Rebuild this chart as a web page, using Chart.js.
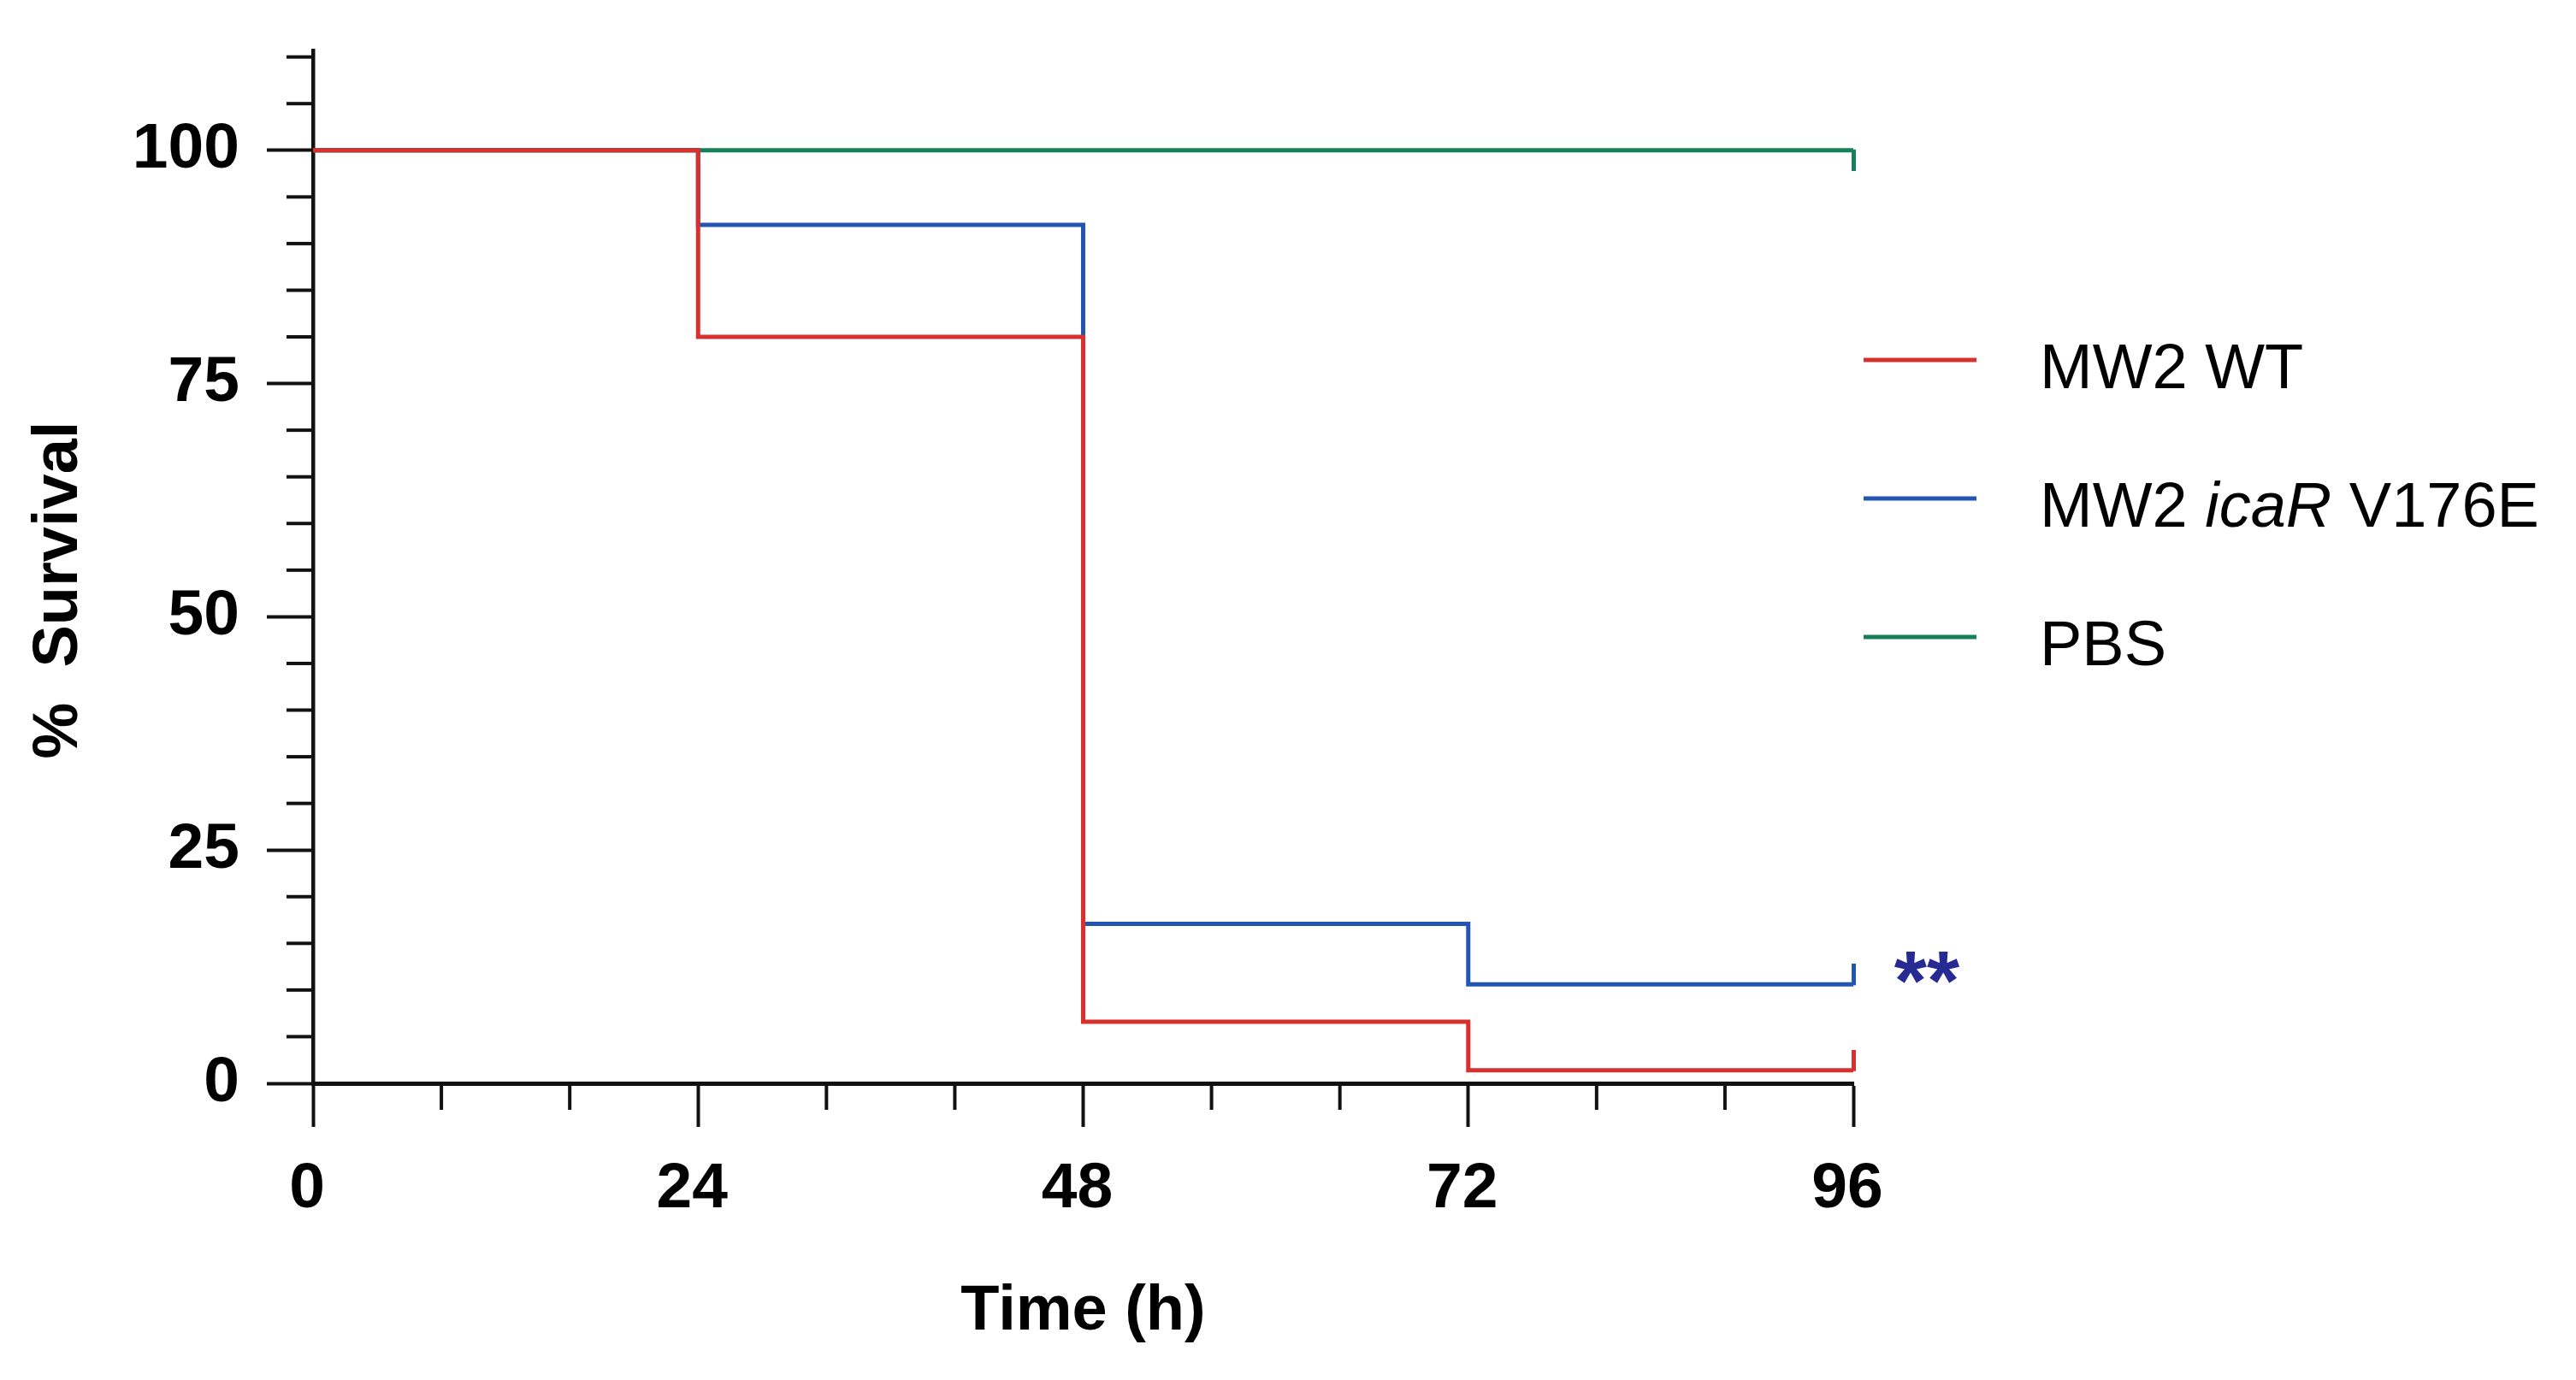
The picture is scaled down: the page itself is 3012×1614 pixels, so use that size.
<!DOCTYPE html>
<html>
<head>
<meta charset="utf-8">
<script src="https://cdn.jsdelivr.net/npm/chart.js@4.4.1/dist/chart.umd.min.js"></script>
<style>
  html, body { margin: 0; padding: 0; background: #ffffff; }
  #wrap { width: 3012px; height: 1614px; position: relative; }
</style>
</head>
<body>
<div id="wrap"><canvas id="c"></canvas></div>
<script>
// ---------------- data ----------------
const timePoints   = [0, 24, 48, 72, 96];
const seriesNames  = ['MW2 WT', 'MW2 icaR V176E', 'PBS'];
const italicWords  = ['icaR'];
const wtSurvival   = [100, 80, 6.6, 1.4, 1.4];
const icarSurvival = [100, 92, 17.1, 10.6, 10.6];
const pbsSurvival  = [100, 100, 100, 100, 100];
const xMajorTicks  = [0, 24, 48, 72, 96];
const xMinorTicks  = [8, 16, 32, 40, 56, 64, 80, 88];
const yMajorTicks  = [0, 25, 50, 75, 100];
const yMinorTicks  = [5, 10, 15, 20, 30, 35, 40, 45, 55, 60, 65, 70, 80, 85, 90, 95, 105, 110];
const xTitle = 'Time (h)';
const yTitle = '%  Survival';
const significance = '**';

// ---------------- styles ----------------
const FONT = '"Liberation Sans", Arial, Helvetica, sans-serif';
const AXIS = '#111111';
const COLORS = ['#d8302f', '#2256b2', '#168059'];
const STAR_COLOR = '#272a92';

function censorMark(color, up) {
  const c = document.createElement('canvas');
  c.width = 5; c.height = 48;
  const g = c.getContext('2d');
  g.fillStyle = color;
  if (up) g.fillRect(0, 0, 5, 25); else g.fillRect(0, 23, 5, 25);
  return c;
}

const seriesValues = [wtSurvival, icarSurvival, pbsSurvival];
const censorUp = [true, true, false];

const datasets = seriesValues.map((vals, s) => {
  const mark = censorMark(COLORS[s], censorUp[s]);
  const last = vals.length - 1;
  return {
    label: seriesNames[s],
    data: timePoints.map((t, i) => ({ x: t, y: vals[i] })),
    borderColor: COLORS[s],
    backgroundColor: COLORS[s],
    borderWidth: 5,
    stepped: 'before',
    fill: false,
    clip: false,
    pointRadius: ctx => ctx.dataIndex === last ? 1 : 0,
    pointHoverRadius: 0,
    pointStyle: ctx => ctx.dataIndex === last ? mark : 'circle'
  };
});

const overlay = {
  id: 'overlay',
  afterDraw(chart) {
    const { ctx, chartArea: a, scales: { x, y } } = chart;
    ctx.save();
    // minor ticks
    ctx.strokeStyle = AXIS;
    ctx.lineWidth = 4;
    ctx.lineCap = 'butt';
    xMinorTicks.forEach(v => {
      const px = x.getPixelForValue(v);
      ctx.beginPath(); ctx.moveTo(px, a.bottom); ctx.lineTo(px, a.bottom + 31); ctx.stroke();
    });
    yMinorTicks.forEach(v => {
      const py = y.getPixelForValue(v);
      ctx.beginPath(); ctx.moveTo(a.left, py); ctx.lineTo(a.left - 31, py); ctx.stroke();
    });

    // y axis title
    ctx.save();
    ctx.translate(a.left - 276, (a.top + a.bottom) / 2 + 27);
    ctx.rotate(-Math.PI / 2);
    ctx.fillStyle = '#000';
    ctx.font = 'bold 74px ' + FONT;
    ctx.textAlign = 'center';
    ctx.textBaseline = 'alphabetic';
    ctx.fillText(yTitle, 0, 0);
    ctx.restore();

    // legend
    seriesNames.forEach((name, i) => {
      const rowY = a.top + 362 + i * 162;
      ctx.strokeStyle = COLORS[i];
      ctx.lineWidth = 5;
      ctx.beginPath(); ctx.moveTo(a.right + 12, rowY); ctx.lineTo(a.right + 144, rowY); ctx.stroke();
      let tx = a.right + 218;
      const baseY = rowY + 33;
      ctx.fillStyle = '#000';
      ctx.textAlign = 'left';
      ctx.textBaseline = 'alphabetic';
      const parts = name.split(/(\s+)/);
      parts.forEach(p => {
        const it = italicWords.includes(p);
        ctx.font = (it ? 'italic ' : '') + '74px ' + FONT;
        ctx.fillText(p, tx, baseY);
        tx += ctx.measureText(p).width;
      });
    });

    // significance marker next to icaR curve end
    const meta = chart.getDatasetMeta(1);
    const pt = meta.data[meta.data.length - 1];
    ctx.fillStyle = STAR_COLOR;
    ctx.font = 'bold 98px ' + FONT;
    ctx.textAlign = 'center';
    ctx.textBaseline = 'alphabetic';
    ctx.fillText(significance, pt.x + 86, pt.y + 30);
    ctx.restore();
  }
};

new Chart(document.getElementById('c'), {
  type: 'line',
  data: { datasets },
  plugins: [overlay],
  options: {
    responsive: true,
    maintainAspectRatio: false,
    animation: false,
    events: [],
    layout: { padding: { top: 59, right: 845, left: 0, bottom: 0 } },
    plugins: { legend: { display: false }, tooltip: { enabled: false } },
    scales: {
      x: {
        type: 'linear',
        min: 0, max: 96,
        afterBuildTicks: s => { s.ticks = xMajorTicks.map(v => ({ value: v })); },
        afterFit: s => { s.height = 347; s.paddingLeft = 0; s.paddingRight = 0; },
        border: { display: true, color: AXIS, width: 5 },
        grid: { drawOnChartArea: false, drawTicks: true, tickLength: 51, tickWidth: 4, tickColor: AXIS },
        ticks: {
          color: '#000', padding: 28, labelOffset: -7, maxRotation: 0,
          font: { family: FONT, size: 75, weight: 'bold', lineHeight: 1.2 }
        },
        title: {
          display: true, text: xTitle, color: '#000',
          padding: { top: 0, bottom: 35 },
          font: { family: FONT, size: 74, weight: 'bold', lineHeight: 1.2 }
        }
      },
      y: {
        type: 'linear',
        min: 0, max: 110.7,
        afterBuildTicks: s => { s.ticks = yMajorTicks.map(v => ({ value: v })); },
        afterFit: s => { s.width = 366; s.paddingTop = 0; s.paddingBottom = 0; },
        border: { display: true, color: AXIS, width: 4.5 },
        grid: { drawOnChartArea: false, drawTicks: true, tickLength: 54, tickWidth: 4, tickColor: AXIS },
        ticks: {
          color: '#000', padding: 32,
          font: { family: FONT, size: 75, weight: 'bold', lineHeight: 1.2 }
        }
      }
    }
  }
});
</script>
</body>
</html>
